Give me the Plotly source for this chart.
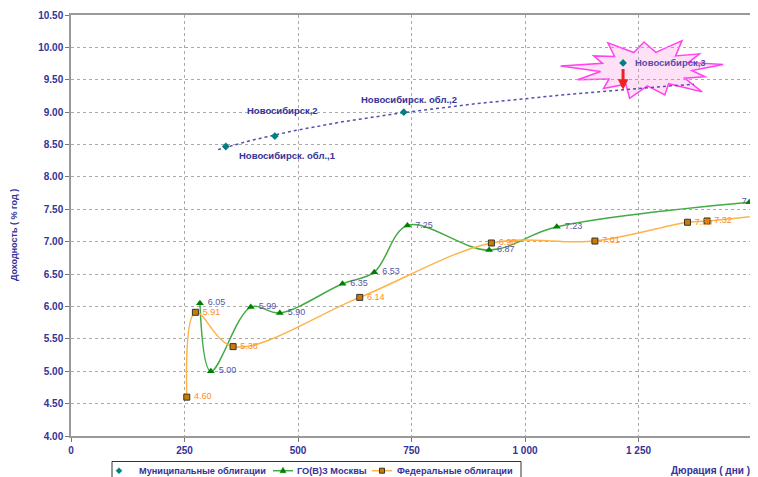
import numpy as np
import plotly.graph_objects as go

# ---------------- data ----------------
muni_names = ["Новосибирск. обл.,1", "Новосибирск,2", "Новосибирск. обл.,2", "Новосибирск,3"]
muni_x = [341, 449, 733, 1216]
muni_y = [8.47, 8.63, 9.00, 9.76]

moscow_x = [284, 308, 396, 460, 598, 668, 741, 921, 1070, 1494]
moscow_y = [6.05, 5.00, 5.99, 5.90, 6.35, 6.53, 7.25, 6.87, 7.23, 7.61]

fed_x = [255, 274, 357, 636, 926, 1154, 1358, 1401, 1580]
fed_y = [4.60, 5.91, 5.38, 6.14, 6.98, 7.01, 7.30, 7.32, 7.45]

trend_range = [324, 1372]

series_names = ["Муниципальные облигации", "ГО(В)З Москвы", "Федеральные облигации"]

x_ticks = [0, 250, 500, 750, 1000, 1250, 1500]
x_ticktext = ["0", "250", "500", "750", "1 000", "1 250", "1 500"]
y_ticks = [4.0, 4.5, 5.0, 5.5, 6.0, 6.5, 7.0, 7.5, 8.0, 8.5, 9.0, 9.5, 10.0, 10.5]

# ---------------- styling ----------------
NAVY = "#333399"
FONT = "Liberation Sans, Arial, sans-serif"
C_MUNI, C_MOS_L, C_MOS_M, C_FED_L, C_FED_M = "#008080", "#44aa44", "#008000", "#ffb347", "#cc7a00"
W, H = 750, 469            # page body adds an 8px offset
ML, MR, MT, MB = 63, 6, 7, 41
PW, PH = W - ML - MR, H - MT - MB
px_per_x = PW / 1500.0
px_per_y = PH / 6.5
OFF = 8  # page offset


def px(xw):   # window pixel x -> paper fraction
    return (xw - OFF - ML) / PW


def py(yw):   # window pixel y -> paper fraction
    return 1 - (yw - OFF - MT) / PH


fig = go.Figure()

# logarithmic trend line (fit on first three municipal points)
b, a = np.polyfit(np.log(muni_x[:3]), muni_y[:3], 1)
tx = np.linspace(trend_range[0], trend_range[1], 80)
ty = a + b * np.log(tx)
fig.add_trace(go.Scatter(x=tx, y=ty, mode="lines", showlegend=False, hoverinfo="skip",
                         line=dict(color="#5050b0", width=1.5, dash="dot")))

fig.add_trace(go.Scatter(
    x=muni_x, y=muni_y, mode="markers", name=series_names[0], showlegend=False,
    marker=dict(symbol="diamond", size=6, color=C_MUNI)))

fig.add_trace(go.Scatter(
    x=moscow_x, y=moscow_y, mode="lines+markers+text", name=series_names[1], showlegend=False,
    line=dict(color=C_MOS_L, width=1.5, shape="spline", smoothing=1.0),
    marker=dict(symbol="triangle-up", size=7, color=C_MOS_M),
    text=[f" {v:.2f}" for v in moscow_y],
    textposition=["middle right"] * (len(moscow_y) - 1) + ["middle center"],
    textfont=dict(size=9, color="#5555aa", family=FONT)))

fig.add_trace(go.Scatter(
    x=fed_x, y=fed_y, mode="lines+markers+text", name=series_names[2], showlegend=False,
    line=dict(color=C_FED_L, width=1.5, shape="spline", smoothing=1.0),
    marker=dict(symbol="square", size=6, color=C_FED_M, line=dict(color="#333333", width=1)),
    text=[f" {v:.2f}" for v in fed_y],
    textposition="middle right",
    textfont=dict(size=9, color="#ff8c1a", family=FONT)))

# starburst around the outlier point
cx = muni_x[3] + 23 / px_per_x
cy = muni_y[3] - 6 / px_per_y
outer = [1.0, 0.85, 1.05, 0.9, 1.0, 0.8, 1.1, 0.95, 0.85, 1.0, 0.9, 1.05, 0.8]
n = len(outer)
pts = []
for i in range(n):
    ang = 2 * np.pi * i / n + 0.15
    r = outer[i]
    pts.append((cx + 78 * r * np.cos(ang) / px_per_x, cy + 30 * r * np.sin(ang) / px_per_y))
    ang2 = ang + np.pi / n
    pts.append((cx + 46 * np.cos(ang2) / px_per_x, cy + 17 * np.sin(ang2) / px_per_y))
path = "M " + " L ".join(f"{p0:.2f},{p1:.4f}" for p0, p1 in pts) + " Z"
fig.add_shape(type="path", path=path, xref="x", yref="y", layer="below",
              fillcolor="rgba(255,200,240,0.55)", line=dict(color="#ff44ee", width=1.5))

# red arrow from the outlier down to the trend line
fig.add_annotation(x=muni_x[3], y=a + b * np.log(muni_x[3]), ax=muni_x[3], ay=muni_y[3] - 0.07,
                   axref="x", ayref="y", xref="x", yref="y", text="", showarrow=True,
                   arrowhead=2, arrowsize=0.7, arrowwidth=3, arrowcolor="#ee2222")

# municipal labels
lab_shift = [(11, -9, "left"), (8, 26, "center"), (5, 13, "center"), (10, 0, "left")]
for i, nm in enumerate(muni_names):
    xs, ys, anc = lab_shift[i]
    fig.add_annotation(x=muni_x[i], y=muni_y[i], xref="x", yref="y",
                       text=f"<b>{nm}</b>", showarrow=False,
                       xanchor=anc, yanchor="middle", xshift=xs, yshift=ys,
                       font=dict(size=9.5, color=NAVY if i < 3 else "#5a4aa8", family=FONT))

# axis titles as annotations
fig.add_annotation(text="<b>Дюрация ( дни )</b>", xref="paper", yref="paper", x=1.0, y=py(470),
                   xanchor="right", yanchor="middle", showarrow=False,
                   font=dict(size=10, color=NAVY, family=FONT))
fig.add_annotation(text="<b>Доходность ( % год )</b>", xref="paper", yref="paper", x=px(14), y=py(235),
                   textangle=-90, xanchor="center", yanchor="middle", showarrow=False,
                   font=dict(size=9, color=NAVY, family=FONT))

# ---- legend (drawn as a boxed row, like the original) ----
LY = 470.7
fig.add_shape(type="rect", xref="paper", yref="paper", x0=px(112), x1=px(521), y0=py(485), y1=py(461.5),
              line=dict(color="#333333", width=1), fillcolor="white")
# item 1: diamond
fig.add_shape(type="path", xref="paper", yref="paper",
              path=f"M {px(119)},{py(LY-3)} L {px(122)},{py(LY)} L {px(119)},{py(LY+3)} L {px(116)},{py(LY)} Z",
              fillcolor=C_MUNI, line=dict(color=C_MUNI, width=0.5))
# item 2: line + triangle
fig.add_shape(type="line", xref="paper", yref="paper", x0=px(273), x1=px(293), y0=py(LY), y1=py(LY),
              line=dict(color=C_MOS_L, width=1.5))
fig.add_shape(type="path", xref="paper", yref="paper",
              path=f"M {px(283)},{py(LY-3.5)} L {px(286)},{py(LY+2)} L {px(280)},{py(LY+2)} Z",
              fillcolor=C_MOS_M, line=dict(color=C_MOS_M, width=0.5))
# item 3: line + square
fig.add_shape(type="line", xref="paper", yref="paper", x0=px(372), x1=px(392), y0=py(LY), y1=py(LY),
              line=dict(color=C_FED_L, width=1.5))
fig.add_shape(type="rect", xref="paper", yref="paper", x0=px(379.5), x1=px(384.5), y0=py(LY+2.5), y1=py(LY-2.5),
              fillcolor=C_FED_M, line=dict(color="#333333", width=1))
for name, xl in zip(series_names, [137, 295, 395]):
    fig.add_annotation(text=f"<b>{name}</b>", xref="paper", yref="paper", x=px(xl), y=py(LY),
                       xanchor="left", yanchor="middle", showarrow=False,
                       font=dict(size=9.2, color=NAVY, family=FONT))

axis_common = dict(showgrid=True, gridcolor="#aaaaaa", griddash="dot", gridwidth=1,
                   showline=True, linecolor="#999999", linewidth=1.5, mirror=True,
                   ticks="outside", ticklen=4, tickcolor="#777777", zeroline=False,
                   tickfont=dict(size=10, color=NAVY, family=FONT, weight="bold"))

fig.update_xaxes(range=[0, 1500], tickvals=x_ticks, ticktext=x_ticktext, **axis_common)
fig.update_yaxes(range=[4, 10.5], tickvals=y_ticks, tickformat=".2f", **axis_common)

fig.update_layout(
    width=W, height=H, margin=dict(l=ML, r=MR, t=MT, b=MB, autoexpand=False),
    plot_bgcolor="white", paper_bgcolor="white",
    font=dict(family=FONT, color=NAVY),
    showlegend=False,
)

fig.write_html("out.html")
